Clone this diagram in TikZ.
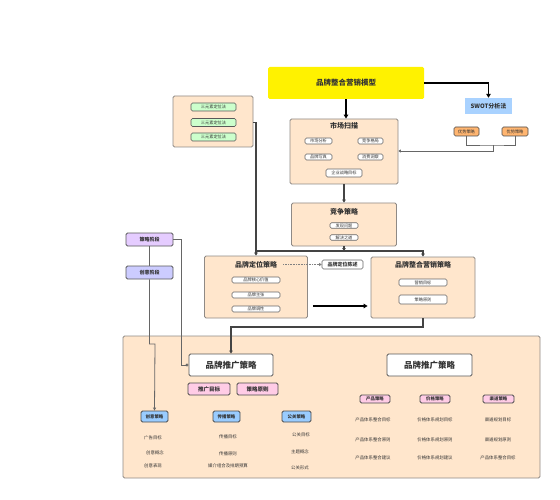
\documentclass[tikz,border=0pt]{standalone}
\usepackage{fontspec}
\setmainfont{Noto Sans CJK SC}
\usetikzlibrary{arrows.meta}
\definecolor{peach}{HTML}{FFE6CC}
\definecolor{peachline}{HTML}{8F8A86}
\definecolor{mint}{HTML}{CCFFCC}
\definecolor{swotblue}{HTML}{A9D2FF}
\definecolor{orangeb}{HTML}{FFB570}
\definecolor{purp}{HTML}{E5CCFF}
\definecolor{lav}{HTML}{CCCCFF}
\definecolor{pinkb}{HTML}{FFCCE6}
\definecolor{blueb}{HTML}{99CCFF}
\definecolor{txt}{HTML}{333333}
\definecolor{lineg}{HTML}{444444}
\begin{document}
\begin{tikzpicture}[x=1pt,y=-1pt,
  base/.style={rounded corners=1.5pt, inner sep=0pt, align=center, text=txt},
  container/.style={base, draw=peachline, fill=peach, line width=0.8pt},
  smallbox/.style={base, draw=gray!80!black, fill=white, line width=0.6pt, font=\fontsize{4.2}{5}\selectfont},
  greenbox/.style={base, draw=gray!70!black, fill=mint, line width=0.6pt, font=\fontsize{4.2}{5}\selectfont},
  orangebox/.style={base, draw=gray!60!black, fill=orangeb, line width=0.6pt, font=\fontsize{4.2}{5}\selectfont},
  pinkbox/.style={base, draw=gray!60!black, fill=pinkb, line width=0.8pt, font=\bfseries\fontsize{5.5}{6}\selectfont},
  bluebox/.style={base, draw=gray!60!black, fill=blueb, line width=0.8pt, font=\bfseries\fontsize{4.4}{5}\selectfont},
  ttl/.style={inner sep=0pt, text=txt, font=\bfseries\fontsize{7}{8}\selectfont},
  plain/.style={inner sep=0pt, text=txt, font=\fontsize{4.4}{5}\selectfont},
  thickarr/.style={line width=1.6pt, black, -{Triangle[length=4pt,width=4.5pt]}},
  darkline/.style={line width=1.2pt, lineg},
  thinline/.style={line width=0.6pt, gray!80!black}
]
\useasboundingbox (0,0) rectangle (560,500);

% title and SWOT
\node[base, fill=yellow, minimum width=156pt, minimum height=32pt, font=\bfseries\fontsize{7.5}{8}\selectfont] (title) at (346,83) {品牌整合营销模型};
\node[base, rounded corners=0pt, fill=swotblue, minimum width=47pt, minimum height=16pt, text=white!20!black, font=\bfseries\fontsize{6}{7}\selectfont] (swot) at (488.5,106) {SWOT分析法};
\node[orangebox, minimum width=25pt, minimum height=9pt] (or1) at (466.5,131.5) {优势策略};
\node[orangebox, minimum width=26pt, minimum height=9pt] (or2) at (515,131.5) {优势策略};

% market scan
\node[container, minimum width=108pt, minimum height=65pt] (mkt) at (344,151.5) {};
\node[ttl] (mktt) at (344,126) {市场扫描};
\node[smallbox, minimum width=27pt, minimum height=6pt] (m1) at (318.5,141) {市场分析};
\node[smallbox, minimum width=25pt, minimum height=6pt] (m2) at (370.5,141) {竞争格局};
\node[smallbox, minimum width=27pt, minimum height=6pt] (m3) at (318.5,157) {品牌写真};
\node[smallbox, minimum width=25pt, minimum height=6pt] (m4) at (370.5,157) {消费洞察};
\node[smallbox, minimum width=36pt, minimum height=8pt] (m5) at (344,173) {企业战略目标};

% green group
\node[container, minimum width=80pt, minimum height=51pt] (grp) at (213,121.5) {};
\node[greenbox, minimum width=45pt, minimum height=8pt] (g1) at (213.5,107) {三元素定位法};
\node[greenbox, minimum width=45pt, minimum height=8pt] (g2) at (213.5,122.5) {三元素定位法};
\node[greenbox, minimum width=45pt, minimum height=8pt] (g3) at (213.5,137) {三元素定位法};

% competition
\node[container, minimum width=105pt, minimum height=43pt] (comp) at (344,224.5) {};
\node[ttl] (compt) at (344,212) {竞争策略};
\node[smallbox, minimum width=28pt, minimum height=5.5pt] (c1) at (344,225.5) {发现问题};
\node[smallbox, minimum width=28pt, minimum height=5.5pt] (c2) at (344,237.5) {解决之道};

% purple stages
\node[base, draw=gray!70!black, fill=purp, line width=0.8pt, minimum width=47pt, minimum height=13pt, font=\bfseries\fontsize{5}{6}\selectfont] (p1) at (149.5,239.5) {策略阶段};
\node[base, draw=gray!70!black, fill=lav, line width=0.8pt, minimum width=47pt, minimum height=13pt, font=\bfseries\fontsize{5}{6}\selectfont] (p2) at (149.5,272.5) {创意阶段};

% positioning
\node[container, minimum width=103pt, minimum height=62pt] (pos) at (256,287) {};
\node[ttl] (post) at (256,264.5) {品牌定位策略};
\node[smallbox, minimum width=48pt, minimum height=6pt] (s1) at (256,280) {品牌核心价值};
\node[smallbox, minimum width=48pt, minimum height=6pt] (s2) at (256,295) {品牌主张};
\node[smallbox, minimum width=48pt, minimum height=6pt] (s3) at (256,309) {品牌调性};
\node[smallbox, minimum width=41pt, minimum height=9pt, font=\bfseries\fontsize{5}{6}\selectfont] (stmt) at (342.5,264.5) {品牌定位陈述};

% integrated marketing
\node[container, minimum width=104pt, minimum height=61pt] (imc) at (423,287.5) {};
\node[ttl] (imct) at (423,264.5) {品牌整合营销策略};
\node[smallbox, minimum width=48pt, minimum height=7pt] (i1) at (423,282.5) {营销目标};
\node[smallbox, minimum width=48pt, minimum height=9pt] (i2) at (423,299.5) {策略原则};

% bottom container
\node[container, minimum width=417pt, minimum height=142pt] (bot) at (331.5,407) {};
\node[base, draw=gray!70!black, fill=white, line width=0.9pt, minimum width=84pt, minimum height=22pt, font=\bfseries\fontsize{8.5}{9}\selectfont] (prL) at (231,365) {品牌推广策略};
\node[pinkbox, minimum width=42pt, minimum height=12pt] (pk1) at (209,389) {推广目标};
\node[pinkbox, minimum width=41pt, minimum height=12pt] (pk2) at (257.5,389) {策略原则};
\node[bluebox, minimum width=27pt, minimum height=11pt] (b1) at (154.5,416.5) {创意策略};
\node[bluebox, minimum width=27pt, minimum height=11pt] (b2) at (226.5,416.5) {传播策略};
\node[bluebox, minimum width=29pt, minimum height=11pt] (b3) at (296.5,416.5) {公关策略};
\node[plain] (t11) at (153,438) {广告目标};
\node[plain] (t12) at (155,453) {创意概念};
\node[plain] (t13) at (153,466) {创意表现};
\node[plain] (t21) at (228,437) {传播目标};
\node[plain] (t22) at (228,454) {传播原则};
\node[plain] (t23) at (228,466) {媒介组合及排期预算};
\node[plain] (t31) at (301,435) {公关目标};
\node[plain] (t32) at (300,452) {主题概念};
\node[plain] (t33) at (300,468) {公关形式};

\node[base, draw=gray!70!black, fill=white, line width=0.9pt, minimum width=85pt, minimum height=22pt, font=\bfseries\fontsize{8.5}{9}\selectfont] (prR) at (429.5,365) {品牌推广策略};
\node[pinkbox, minimum width=30pt, minimum height=8pt, font=\bfseries\fontsize{4.4}{5}\selectfont] (q1) at (375,399) {产品策略};
\node[pinkbox, minimum width=30pt, minimum height=8pt, font=\bfseries\fontsize{4.4}{5}\selectfont] (q2) at (435,399) {价格策略};
\node[pinkbox, minimum width=31pt, minimum height=8pt, font=\bfseries\fontsize{4.4}{5}\selectfont] (q3) at (498.5,399) {渠道策略};
\node[plain] (r11) at (373,420) {产品体系整合目标};
\node[plain] (r12) at (373,440) {产品体系整合原则};
\node[plain] (r13) at (373,458) {产品体系整合建议};
\node[plain] (r21) at (435,420) {价格体系规划目标};
\node[plain] (r22) at (435,440) {价格体系规划原则};
\node[plain] (r23) at (435,458) {价格体系规划建议};
\node[plain] (r31) at (498,420) {渠道规划目标};
\node[plain] (r32) at (498,440) {渠道规划原则};
\node[plain] (r33) at (498,458) {产品体系整合目标};

% connectors
\draw[thickarr] (title.east) -| (swot.north);
\draw[thickarr] (title.south) -- (title.south |- mkt.north);
\draw[darkline, -{Triangle[length=3pt,width=3.5pt]}] (mkt.south) -- (comp.north);

\coordinate (sj) at (493,145);
\draw[thinline] (or1.south) |- (sj) -| (or2.south);
\draw[thinline, -{Triangle[length=2.5pt,width=3pt]}] (sj) -- ++(0,6) -- (mkt.east |- 0,151);

\coordinate (cj) at (344,251);
\draw[darkline, line width=1.6pt, -{Triangle[length=3pt,width=3.5pt]}] (comp.south) -- (cj);
\draw[darkline, line width=1.6pt, -{Triangle[length=3pt,width=3.5pt]}] (cj) -| (imc.north);
\draw[darkline, line width=1.6pt] (cj) -- (pos.north |- cj);

\draw[darkline, -{Triangle[length=3pt,width=3.5pt]}] (grp.east |- g2) -| (pos.north);

\draw[densely dotted, gray, line width=0.6pt, -{Triangle[length=2.5pt,width=3pt]}] ([xshift=6pt]post.east) -- (stmt.west);
\draw[thickarr] ([xshift=5pt]pos.east |- 0,306) -- ([xshift=-3pt]imc.west |- 0,306);

\coordinate (ij) at (423,327);
\draw[darkline, -{Triangle[length=3pt,width=3.5pt]}] (imc.south) -- (ij) -| (prL.north);

\draw[thinline, line width=0.8pt] (p1.south) -- (p2.north);
\draw[thinline, line width=0.8pt, -{Circle[open,length=3pt]}] (p1.east) -- ++(8,0) |- (prL.west);
\draw[thinline, line width=0.8pt, -{Triangle[open,length=3pt,width=3pt]}] (p2.south) |- (155,344) -- (b1.north);
\end{tikzpicture}
\end{document}
